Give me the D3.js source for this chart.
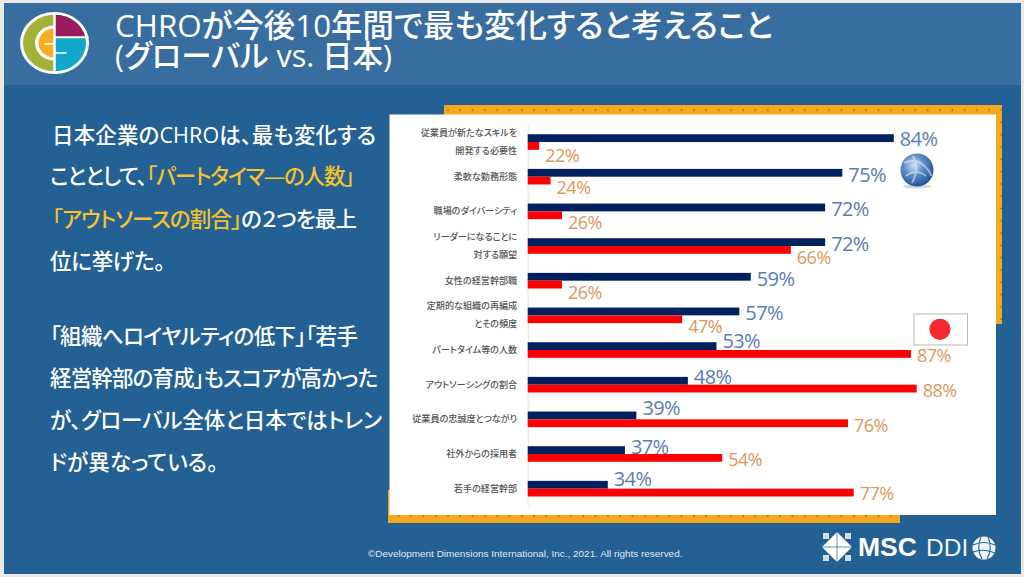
<!DOCTYPE html>
<html lang="ja"><head><meta charset="utf-8">
<script src="https://cdn.jsdelivr.net/npm/d3@7"></script>
<style>
html,body{margin:0;padding:0;background:#e9e9e9;overflow:hidden}
svg{display:block}
text{font-family:"Open Sans","Noto Sans CJK JP",sans-serif;font-feature-settings:"palt"}
</style></head><body><svg id="c" width="1024" height="577"></svg>
<script>
const categories=["従業員が新たなスキルを\n開発する必要性","柔軟な勤務形態","職場のダイバーシティ","リーダーになることに\n対する願望","女性の経営幹部職","定期的な組織の再編成\nとその頻度","パートタイム等の人数","アウトソーシングの割合","従業員の忠誠度とつながり","社外からの採用者","若手の経営幹部"];
const globalValues=[84,75,72,72,59,57,53,48,39,37,34];
const japanValues=[22,24,26,66,26,47,87,88,76,54,77];
// label nudges (px) from each bar's end / row centre, as hand-placed in the original
const globalLabelDy=[-3,-2,-2,-2,-2,-2,-9,-8,-11,-7,-10];
const japanLabelDy=[14,11,11,12,12,11,6,6,6,6,5];
const titleLines=["CHROが今後10年間で最も変化すると考えること","(グローバル vs. 日本)"];
const bodyLines=[
 [["日本企業のCHROは、最も変化する",0]],
 [["こととして、",0],["「パートタイマ―の人数」",1]],
 [["「アウトソースの割合」",1],["の２つを最上",0]],
 [["位に挙げた。",0]],
 [["「組織へロイヤルティの低下」「若手",0]],
 [["経営幹部の育成」もスコアが高かった",0]],
 [["が、グローバル全体と日本ではトレン",0]],
 [["ドが異なっている。",0]]
];
const bodyY=[143,184,227,269,344,386,428,470];
const bodyX=[52,50,52,50,50,50,50,50];
const bodyWidth=[324,305,305,115,308,328,332,168];
const footer="©Development Dimensions International, Inc., 2021. All rights reserved.";

const svg=d3.select("#c");
const defs=svg.append("defs");
const pat=defs.append("pattern").attr("id","dots").attr("width",12.3).attr("height",12.3).attr("patternUnits","userSpaceOnUse").attr("x",444).attr("y",105);
pat.append("rect").attr("width",12.3).attr("height",12.3).attr("fill","#f5a81c");
pat.append("circle").attr("cx",4).attr("cy",5).attr("r",.8).attr("fill","#7a5a20");
const gr=defs.append("radialGradient").attr("id","globe").attr("cx","40%").attr("cy","35%").attr("r","70%");
gr.append("stop").attr("offset","0").attr("stop-color","#cfe0f2");
gr.append("stop").attr("offset",".45").attr("stop-color","#5a8cc4");
gr.append("stop").attr("offset","1").attr("stop-color","#1d4f92");
defs.append("clipPath").attr("id","upper").append("rect").attr("x",0).attr("y",-40).attr("width",40).attr("height",33.5);

// slide
svg.append("rect").attr("x",4).attr("y",3).attr("width",1017).attr("height",571).attr("fill","#236093");
svg.append("rect").attr("x",4).attr("y",3).attr("width",1017).attr("height",82).attr("fill","#386e9f");

// logo
const logo=svg.append("g").attr("transform","translate(54.5,43) scale(1,.9)");
const arc=d3.arc();
logo.append("circle").attr("r",34.5).attr("fill","#fff");
logo.append("path").attr("d",arc({innerRadius:0,outerRadius:31.5,startAngle:Math.PI,endAngle:2*Math.PI})).attr("fill","#a3b13b");
logo.append("path").attr("d",arc({innerRadius:0,outerRadius:31.5,startAngle:0,endAngle:Math.PI})).attr("fill","#10a8c8");
logo.append("path").attr("clip-path","url(#upper)").attr("d",arc({innerRadius:0,outerRadius:31.5,startAngle:0,endAngle:Math.PI})).attr("fill","#9a1a60");
logo.append("path").attr("d",arc({innerRadius:0,outerRadius:19.5,startAngle:Math.PI,endAngle:2*Math.PI})).attr("fill","#fff");
logo.append("path").attr("d",arc({innerRadius:0,outerRadius:16,startAngle:Math.PI,endAngle:2*Math.PI})).attr("fill","#f7ae22");
logo.append("line").attr("x1",0).attr("x2",34).attr("y1",-6.5).attr("y2",-6.5).attr("stroke","#fff").attr("stroke-width",2.2);
logo.append("line").attr("y1",-34).attr("y2",34).attr("stroke","#fff").attr("stroke-width",2.5);
logo.append("line").attr("x1",-10).attr("x2",0).attr("y1",1).attr("y2",1).attr("stroke","#fff").attr("stroke-width",1.8);
logo.append("line").attr("x1",0).attr("x2",12).attr("y1",11).attr("y2",11).attr("stroke","#fff").attr("stroke-width",1.8);

// title
svg.append("g").selectAll("text").data(titleLines).join("text")
 .attr("x",115).attr("y",(d,i)=>37+i*29.5).attr("fill","#fff").attr("font-size",(d,i)=>i?30.5:31.4).attr("font-weight",500).text(d=>d);

// body
const bt=svg.append("g").selectAll("text").data(bodyLines).join("text")
 .attr("x",(d,i)=>bodyX[i]).attr("y",(d,i)=>bodyY[i]).attr("font-size",21.5).attr("font-weight",500).attr("fill","#fff")
 .attr("textLength",(d,i)=>bodyWidth[i]).attr("lengthAdjust","spacing");
bt.selectAll("tspan").data(d=>d).join("tspan").attr("fill",d=>d[1]?"#f5c22b":"#fff").text(d=>d[0]);

// frames
svg.append("rect").attr("x",444).attr("y",105).attr("width",558).attr("height",219).attr("fill","url(#dots)");
svg.append("rect").attr("x",388).attr("y",490).attr("width",512).attr("height",33).attr("fill","url(#dots)");
svg.append("rect").attr("x",389.5).attr("y",114.5).attr("width",606.5).attr("height",400.5).attr("fill","#fff");

// chart
const x=d3.scaleLinear().domain([20,90]).range([527.7,928.1]);
const y=d3.scaleBand().domain(d3.range(categories.length)).range([124.7,506]);
const barH=7.8;
const rows=categories.map((c,i)=>({i,g:globalValues[i],j:japanValues[i]}));

const axis=svg.append("g").attr("transform",`translate(${x(20)},0)`).call(d3.axisLeft(y).tickSize(0).tickPadding(10).tickFormat(""));
axis.select(".domain").attr("stroke","#e3e3e3").attr("stroke-width",1);
axis.selectAll(".tick text").each(function(i){
  const t=d3.select(this),ls=categories[i].split("\n");
  t.text(null).attr("font-size",9.1).attr("font-weight",500).attr("fill","#555").attr("text-anchor","end").attr("dy",null);
  ls.forEach((s,k)=>t.append("tspan").attr("x",-10.5).attr("y",(k-(ls.length-1)/2)*18+3).text(s));
});

svg.append("g").selectAll("rect").data(rows).join("rect")
 .attr("x",x(20)).attr("y",d=>y(d.i)+y.bandwidth()/2-barH).attr("height",barH)
 .attr("width",d=>x(d.g)-x(20)).attr("fill","#002060");
svg.append("g").selectAll("rect").data(rows).join("rect")
 .attr("x",x(20)).attr("y",d=>y(d.i)+y.bandwidth()/2).attr("height",barH)
 .attr("width",d=>x(d.j)-x(20)).attr("fill","#ff0000");

// flag & globe drawn under labels
svg.append("rect").attr("x",914).attr("y",314).attr("width",53.5).attr("height",31).attr("fill","#fff").attr("stroke","#b5b5b5").attr("stroke-width",1);
svg.append("circle").attr("cx",940).attr("cy",329.3).attr("r",10.6).attr("fill","#f52a32");
svg.append("ellipse").attr("cx",917).attr("cy",186.5).attr("rx",14).attr("ry",2).attr("fill","#d8d8d8");
svg.append("circle").attr("cx",917).attr("cy",170).attr("r",16.5).attr("fill","url(#globe)");
svg.append("path").attr("d","M904 163Q914 158 922 164T931 176M906 176Q916 168 926 176M913 156Q920 168 912 183").attr("fill","none").attr("stroke","#e3eef9").attr("stroke-width",2).attr("opacity",.55);

svg.append("g").selectAll("text").data(rows).join("text")
 .attr("x",d=>x(d.g)+6).attr("y",d=>y(d.i)+y.bandwidth()/2+globalLabelDy[d.i]+7)
 .attr("font-size",20).attr("letter-spacing",-.6).attr("fill","#5a7db4").text(d=>d.g+"%");
svg.append("g").selectAll("text").data(rows).join("text")
 .attr("x",d=>x(d.j)+6).attr("y",d=>y(d.i)+y.bandwidth()/2+japanLabelDy[d.i]+6.3)
 .attr("font-size",18).attr("letter-spacing",-.5).attr("fill","#e0975c").text(d=>d.j+"%");

// footer
svg.append("text").attr("x",368).attr("y",556.5).attr("font-size",9.95).attr("fill","#e4e9ef").style("font-family","Liberation Sans").text(footer);
const mk=svg.append("g").attr("transform","translate(837,547)");
mk.selectAll("rect").data([[-14,-14],[8,-14],[-14,8],[8,8]]).join("rect").attr("x",d=>d[0]).attr("y",d=>d[1]).attr("width",6).attr("height",6).attr("fill","#cfdde9");
mk.append("path").attr("d","M0-15L15 0L0 15L-15 0Z").attr("fill","#fff");
mk.selectAll("line").data([[-15,0,15,0],[0,-15,0,15]]).join("line").attr("x1",d=>d[0]).attr("y1",d=>d[1]).attr("x2",d=>d[2]).attr("y2",d=>d[3]).attr("stroke","#236093").attr("stroke-width",.7);
svg.append("text").attr("x",858).attr("y",556).attr("font-size",26.5).attr("font-weight",700).attr("fill","#fff").style("font-family","Liberation Sans").text("MSC");
svg.append("text").attr("x",926).attr("y",556).attr("font-size",24.5).attr("fill","#eef3f7").style("font-family","Liberation Sans").text("DDI");
const gl=svg.append("g").attr("transform","translate(984,548)");
gl.append("circle").attr("r",11.5).attr("fill","#eef3f7");
gl.append("path").attr("d","M-11-3Q0-8 11-3M-11 4Q0 0 11 5M-3-11Q-8 0-2 11M4-11Q9 0 3 11").attr("fill","none").attr("stroke","#236093").attr("stroke-width",1.1);
</script></body></html>
